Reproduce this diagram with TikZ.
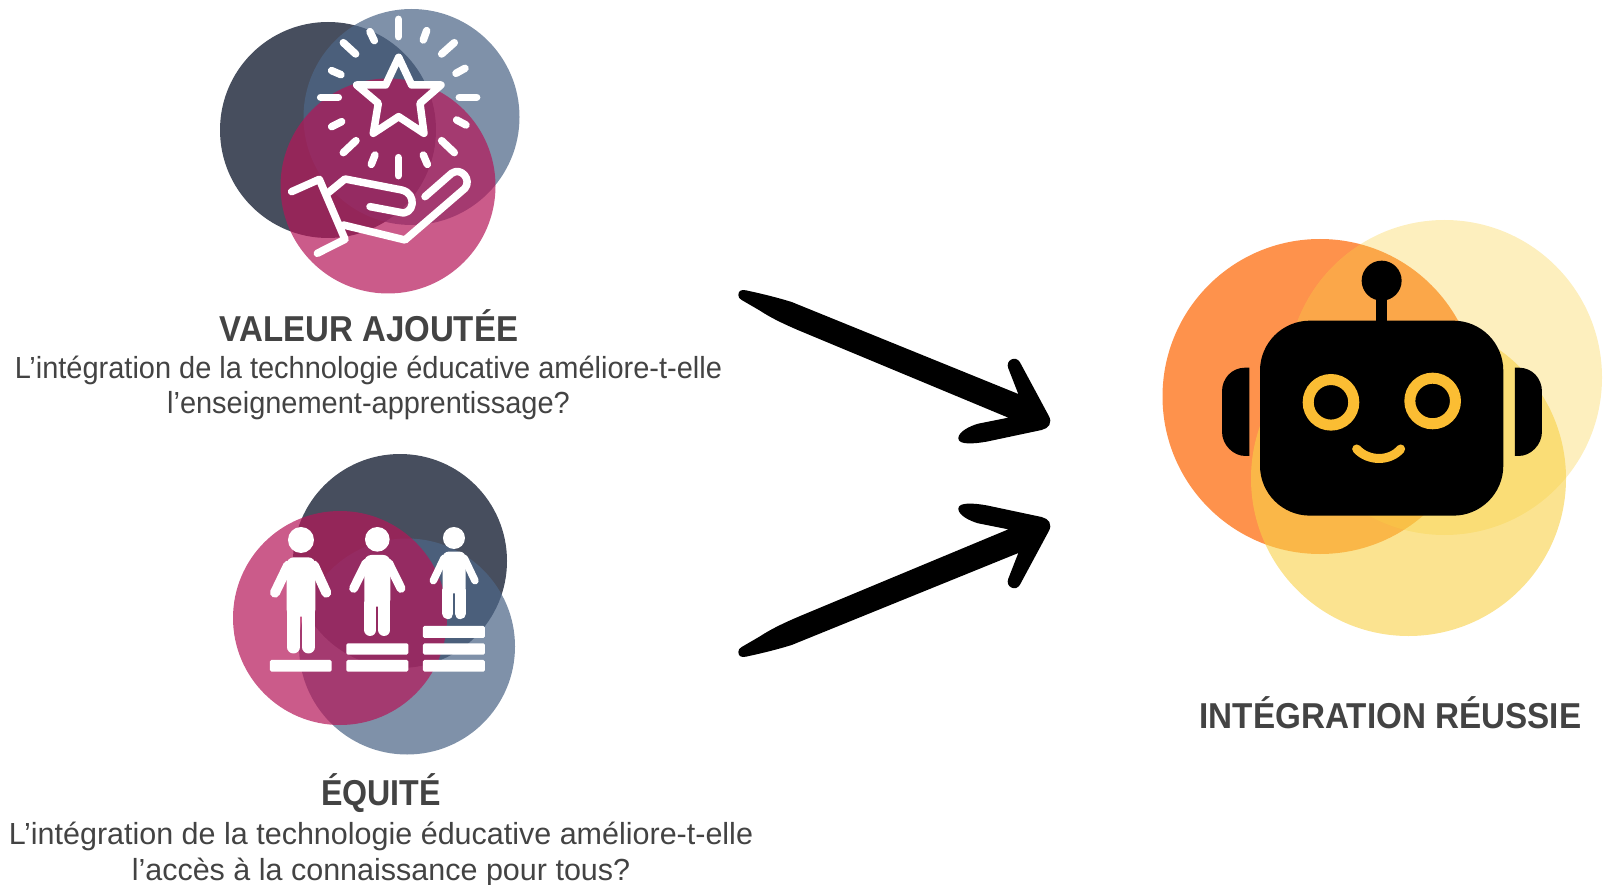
\documentclass[tikz,border=0pt]{standalone}
\usepackage{fontspec}
\setmainfont{Liberation Sans}
\newfontfamily\titleA[FakeStretch=0.917]{Liberation Sans}
\newfontfamily\titleB[FakeStretch=0.893]{Liberation Sans}
\newfontfamily\titleC[FakeStretch=0.923]{Liberation Sans}
\newfontfamily\bodyA[FakeStretch=0.95]{Liberation Sans}
\definecolor{dkc}{RGB}{71,78,94}
\definecolor{blc}{RGB}{77,102,135}
\definecolor{pkc}{RGB}{181,22,88}
\definecolor{orc}{RGB}{254,146,76}
\definecolor{yec}{RGB}{248,209,70}
\definecolor{eyec}{RGB}{251,189,51}
\definecolor{txc}{RGB}{67,67,67}
\newcommand{\brusharrow}{(55,75) .. controls (55,62) and (65,58) .. (78,61) .. controls (120,70) and (170,82) .. (215,96) -- (895,372) -- (865,295) .. controls (855,270) and (888,255) .. (900,277) -- (985,435) .. controls (1000,460) and (985,475) .. (965,480) -- (800,515) .. controls (760,522) and (715,525) .. (715,505) .. controls (715,485) and (750,468) .. (775,461) -- (865,443) -- (250,187) .. controls (190,162) and (150,142) .. (120,122) -- (65,90) .. controls (58,86) and (55,82) .. (55,75) -- cycle}
\tikzset{
  ray/.style={white,line width=7.5pt,line cap=round},
  handline/.style={white,line width=7.5pt,line cap=round,line join=round},
  stepbar/.style={fill=white,rounded corners=1.5},
  limb/.style={white,line cap=round,line width=#1},
  titletext/.style={text=txc,inner sep=0pt,anchor=base},
  bodytext/.style={text=txc,inner sep=0pt,anchor=base},
}
\begin{document}
\begin{tikzpicture}[x=1pt,y=-1pt]
\useasboundingbox (0,0) rectangle (1603,885);
% top circles
\fill[dkc] (328,130) circle[radius=108];
\fill[blc,opacity=.717] (411.5,117) circle[radius=108];
\fill[pkc,opacity=.7] (388,186) circle[radius=107.5];
\begin{scope}[shift={(210,0)},x=.3333pt,y=-.3333pt]
 \foreach \a/\b in {{(565,58)/(565,110)},{(480,95)/(493,122)},{(640,120)/(650,92)},{(400,128)/(437,162)},{(733,128)/(695,162)},{(365,212)/(393,224)},{(765,205)/(738,220)},{(332,292)/(385,292)},{(748,292)/(800,292)},{(365,380)/(395,365)},{(740,360)/(768,375)},{(400,458)/(438,422)},{(695,422)/(733,458)},{(495,465)/(484,493)},{(640,465)/(652,493)},{(565,473)/(565,527)}}
   {\draw[ray] \a -- \b;}
 \draw[handline] (566,172) -- (605,255) -- (693,255) -- (630,310) -- (642,400) -- (566,350) -- (490,400) -- (505,310) -- (440,255) -- (527,255) -- cycle;
 \draw[handline] (245,575) -- (328,538) -- (405,718) -- (322,760);
 \draw[handline] (355,578) -- (405,537) -- (575,570) .. controls (625,582) and (610,650) .. (570,637) -- (480,620);
 \draw[handline] (400,675) -- (585,720) -- (765,565) .. controls (785,540) and (755,500) .. (725,520) -- (645,590);
\end{scope}
% lower circles
\fill[dkc] (400,561) circle[radius=107];
\fill[blc,opacity=.717] (407,646.5) circle[radius=108];
\fill[pkc,opacity=.7] (340,618) circle[radius=107];
\begin{scope}[shift={(220,450)},x=.3333pt,y=-.3333pt]
 \fill[white] (243,270) circle[radius=39];
 \fill[white] (472,268) circle[radius=37];
 \fill[white] (702,264) circle[radius=33];
 % person 1
 \fill[white,rounded corners=7pt] (200,322) rectangle (286,500);
 \draw[limb=10pt] (204,347) -- (165,428);
 \draw[limb=10pt] (282,347) -- (319,428);
 \draw[limb=13pt] (220,480) -- (220,591);
 \draw[limb=13pt] (265,480) -- (265,591);
 % person 2
 \fill[white,rounded corners=7pt] (433,315) rectangle (511,470);
 \draw[limb=9pt] (438,340) -- (401,415);
 \draw[limb=9pt] (506,340) -- (543,415);
 \draw[limb=12pt] (451,460) -- (451,540);
 \draw[limb=12pt] (493,460) -- (493,540);
 % person 3
 \fill[white,rounded corners=6pt] (668,305) rectangle (737,430);
 \draw[limb=7.5pt] (672,325) -- (640,392);
 \draw[limb=7.5pt] (733,325) -- (765,392);
 \draw[limb=11pt] (684,420) -- (684,491);
 \draw[limb=11pt] (721,420) -- (721,491);
 % bars
 \fill[stepbar] (150,630) rectangle (335,665);
 \fill[stepbar] (379,580) rectangle (565,614);
 \fill[stepbar] (379,630) rectangle (565,665);
 \fill[stepbar] (609,528) rectangle (795,564);
 \fill[stepbar] (609,580) rectangle (795,614);
 \fill[stepbar] (609,630) rectangle (795,665);
\end{scope}
% arrows
\begin{scope}[shift={(720,270)},x=.3333pt,y=-.3333pt]
 \fill[black] \brusharrow;
\end{scope}
\begin{scope}[shift={(720,677)},x=.3333pt,y=.3333pt]
 \fill[black] \brusharrow;
\end{scope}
% robot circles
\fill[orc] (1320,396.5) circle[radius=157.5];
\fill[yec,opacity=.6] (1408.5,478.5) circle[radius=157.5];
\fill[yec,opacity=.35] (1444.5,377.5) circle[radius=157.5];
\begin{scope}[shift={(1150,210)},x=.3333pt,y=-.3333pt]
 \fill[black] (695,212) circle[radius=60];
 \fill[black] (678,250) rectangle (712,340);
 \fill[black,rounded corners=50pt] (330,332) rectangle (1060,917);
 \fill[black] (298,473) -- (286,473) .. controls (245,473) and (216,505) .. (216,545) -- (216,665) .. controls (216,705) and (250,738) .. (286,738) -- (298,738) -- cycle;
 \fill[black] (1095,473) -- (1106,473) .. controls (1147,473) and (1176,505) .. (1176,545) -- (1176,665) .. controls (1176,705) and (1142,738) .. (1106,738) -- (1095,738) -- cycle;
 \draw[eyec,line width=11pt] (543,577) circle[radius=22.8pt];
 \draw[eyec,line width=11pt] (848,573) circle[radius=22.8pt];
 \draw[eyec,line width=9pt,line cap=round] (620,717) .. controls (655,755) and (720,755) .. (752,717);
\end{scope}
% texts
\node[titletext,font=\titleA\fontsize{36}{36}\selectfont\bfseries] (t1) at (369,341) {VALEUR AJOUTÉE};
\node[bodytext,font=\bodyA\fontsize{30.5}{30.5}\selectfont] (b1a) at (368.5,378) {L’intégration de la technologie éducative améliore-t-elle};
\node[bodytext,font=\bodyA\fontsize{30.5}{30.5}\selectfont] (b1b) at (368.5,413) {l’enseignement-apprentissage?};
\node[titletext,font=\titleB\fontsize{36}{36}\selectfont\bfseries] (t2) at (381,805) {ÉQUITÉ};
\node[bodytext,font=\fontsize{30.5}{30.5}\selectfont] (b2a) at (381,844) {L’intégration de la technologie éducative améliore-t-elle};
\node[bodytext,font=\fontsize{30.5}{30.5}\selectfont] (b2b) at (381,880) {l’accès à la connaissance pour tous?};
\node[titletext,font=\titleC\fontsize{36}{36}\selectfont\bfseries] (t3) at (1390.5,728.5) {INTÉGRATION RÉUSSIE};
\end{tikzpicture}
\end{document}
